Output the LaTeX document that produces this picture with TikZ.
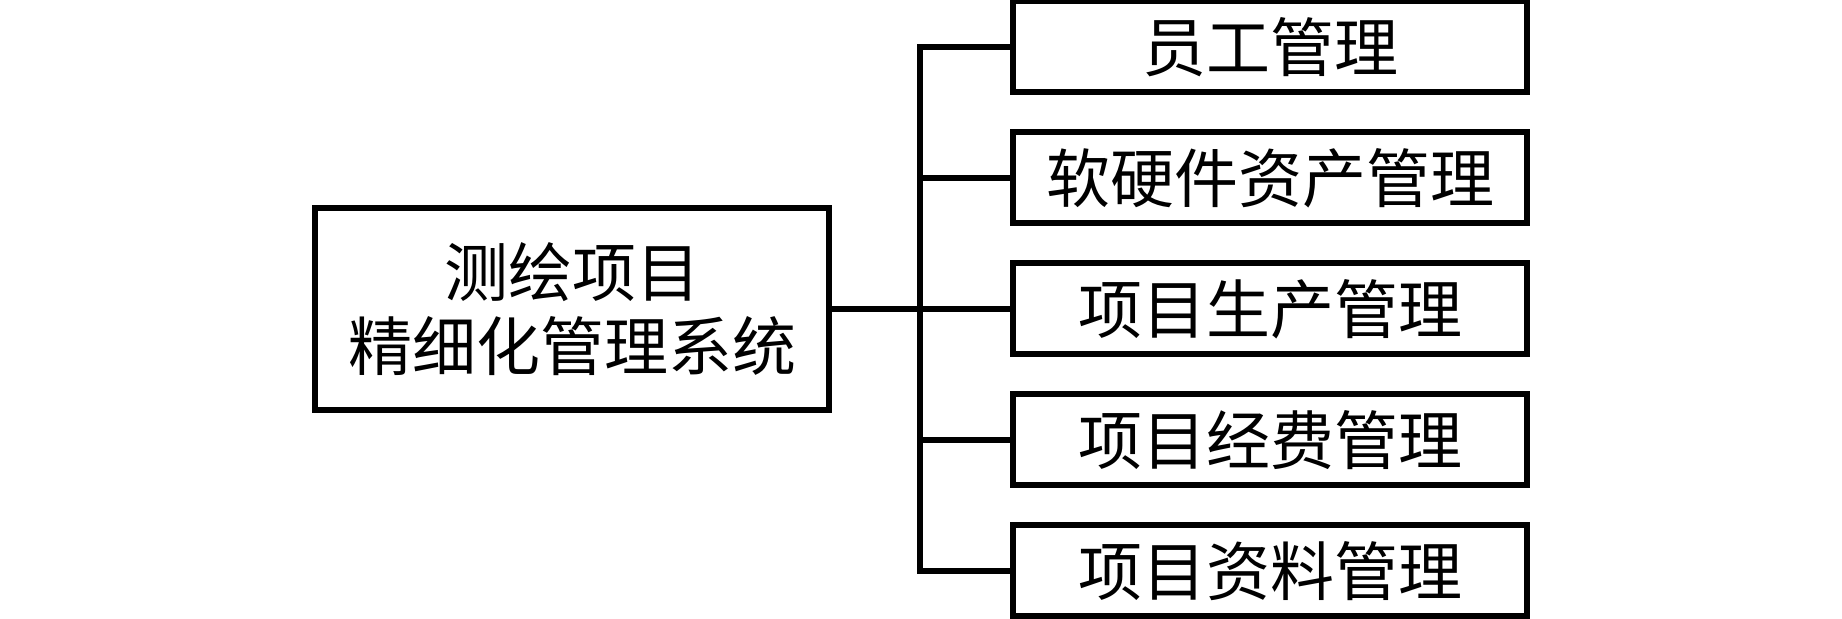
\documentclass[tikz,border=0pt]{standalone}
\usepackage{fontspec}
\newfontfamily\cjk{Noto Sans CJK SC}
\usetikzlibrary{positioning}

\begin{document}
\begin{tikzpicture}[x=0.5pt, y=-0.5pt,
      mainbox/.style={draw=black, line width=3pt, minimum width=257pt,
        minimum height=101pt, inner sep=0pt, align=center,
        font=\cjk\fontsize{32}{37}\selectfont},
      subbox/.style={draw=black, line width=3pt, minimum width=257pt,
        minimum height=45.5pt, inner sep=0pt,
        font=\cjk\fontsize{32}{38}\selectfont},
      link/.style={line width=3pt, black}
    ]
    \useasboundingbox (0,0) rectangle (1842,619);
    \node[mainbox] (sys) at (572,309) {测绘项目\\精细化管理系统};
    \node[subbox] (staff)  at (1270,47)  {员工管理};
    \node[subbox] (assets) at (1270,178) {软硬件资产管理};
    \node[subbox] (prod)   at (1270,309) {项目生产管理};
    \node[subbox] (fund)   at (1270,440) {项目经费管理};
    \node[subbox] (docs)   at (1270,571) {项目资料管理};
    \coordinate (fork) at (920,309);
    \draw[link] (sys.east) -- (fork);
    \draw[link] (staff.west) -| (fork) |- (docs.west);
    \foreach \n in {assets,prod,fund}
      \draw[link] (\n.west -| fork) -- (\n.west);
    \end{tikzpicture}
\end{document}
